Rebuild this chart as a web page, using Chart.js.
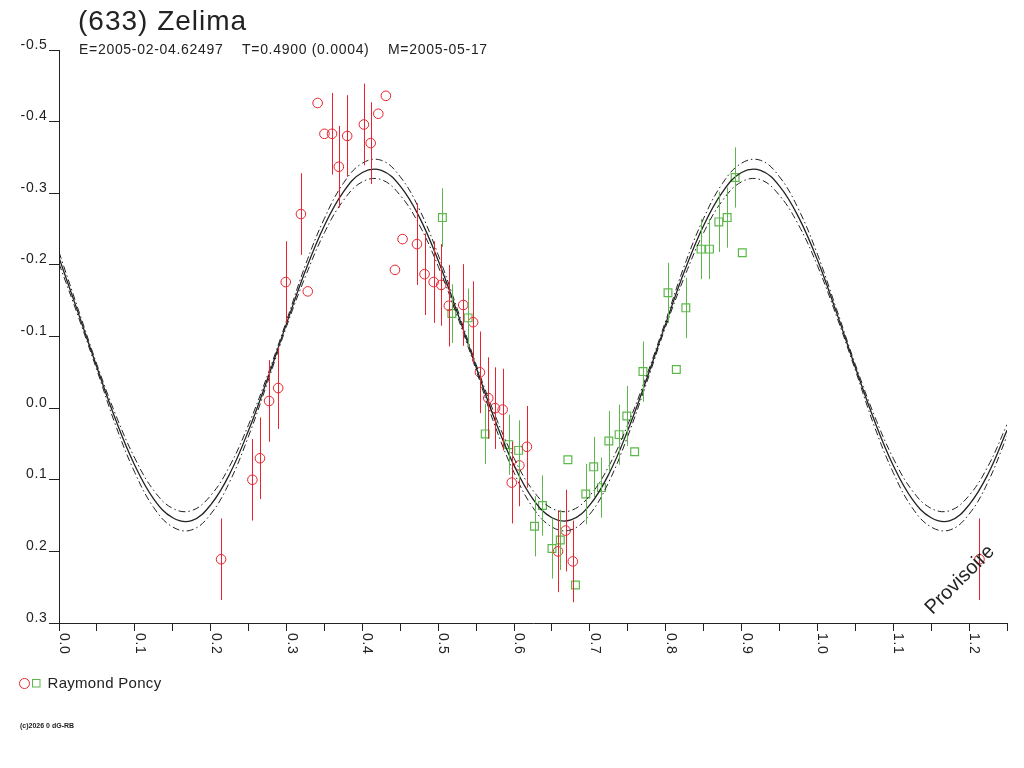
<!DOCTYPE html>
<html lang="fr">
<head>
<meta charset="UTF-8">
<title>(633) Zelima</title>
<script src="https://cdn.jsdelivr.net/npm/chart.js"></script>
<style>
    html, body { margin: 0; padding: 0; background: #fff; }
    #wrap { width: 1024px; height: 768px; }
</style>
</head>
<body>
<div id="wrap"><canvas id="lc" width="1024" height="768"></canvas></div>
<script>
// phase grid of the fitted curve and the three curves
const fitPhase = [0, 0.025, 0.05, 0.075, 0.1, 0.125, 0.15, 0.175, 0.2, 0.225,
    0.25, 0.275, 0.3, 0.325, 0.35, 0.375, 0.4, 0.425, 0.45, 0.475,
    0.5, 0.525, 0.55, 0.575, 0.6, 0.625, 0.65, 0.675, 0.7, 0.725,
    0.75, 0.775, 0.8, 0.825, 0.85, 0.875, 0.9, 0.925, 0.95, 0.975,
    1.0, 1.025, 1.05, 1.075, 1.1, 1.125, 1.15, 1.175, 1.2, 1.225, 1.25];
const fitMid = [-0.210, -0.134, -0.057, 0.017, 0.080, 0.127, 0.153, 0.157, 0.135, 0.092,
    0.031, -0.041, -0.118, -0.192, -0.255, -0.302, -0.329, -0.332, -0.310, -0.267,
    -0.206, -0.134, -0.057, 0.017, 0.080, 0.127, 0.153, 0.156, 0.135, 0.092,
    0.031, -0.041, -0.118, -0.192, -0.255, -0.302, -0.329, -0.332, -0.310, -0.267,
    -0.207, -0.134, -0.057, 0.017, 0.080, 0.127, 0.153, 0.157, 0.135, 0.092, 0.031];
const fitUpper = [-0.218, -0.139, -0.061, 0.010, 0.070, 0.115, 0.140, 0.143, 0.122, 0.081,
    0.023, -0.046, -0.122, -0.200, -0.265, -0.314, -0.342, -0.346, -0.323, -0.278,
    -0.214, -0.139, -0.061, 0.010, 0.070, 0.115, 0.140, 0.143, 0.122, 0.081,
    0.023, -0.046, -0.122, -0.200, -0.265, -0.314, -0.342, -0.346, -0.323, -0.278,
    -0.215, -0.139, -0.061, 0.010, 0.070, 0.115, 0.140, 0.143, 0.122, 0.081, 0.023];
const fitLower = [-0.202, -0.129, -0.053, 0.025, 0.090, 0.139, 0.166, 0.170, 0.148, 0.103,
    0.039, -0.036, -0.114, -0.184, -0.245, -0.290, -0.316, -0.319, -0.297, -0.256,
    -0.198, -0.129, -0.053, 0.025, 0.090, 0.139, 0.166, 0.170, 0.148, 0.103,
    0.039, -0.036, -0.114, -0.184, -0.245, -0.290, -0.316, -0.319, -0.297, -0.256,
    -0.199, -0.129, -0.053, 0.025, 0.090, 0.139, 0.166, 0.170, 0.148, 0.103, 0.039];

// first session (red circles)
const redPhase = [0.2137, 0.255, 0.265, 0.277, 0.289, 0.299, 0.319, 0.328, 0.341, 0.350,
    0.360, 0.369, 0.380, 0.402, 0.411, 0.421, 0.431, 0.443, 0.453, 0.472,
    0.482, 0.494, 0.504, 0.514, 0.533, 0.546, 0.555, 0.566, 0.575, 0.585,
    0.597, 0.607, 0.617, 0.658, 0.668, 0.6775, 1.2137];
const redMag = [0.211, 0.100, 0.070, -0.010, -0.028, -0.176, -0.271, -0.163, -0.426, -0.383,
    -0.383, -0.337, -0.380, -0.396, -0.370, -0.411, -0.436, -0.193, -0.236, -0.229,
    -0.187, -0.176, -0.172, -0.143, -0.144, -0.120, -0.050, -0.014, 0.000, 0.002,
    0.104, 0.080, 0.054, 0.200, 0.171, 0.214, 0.211];
const redErr = [0.057, 0.057, 0.057, 0.057, 0.057, 0.057, 0.057, 0, 0, 0,
    0.057, 0.057, 0.057, 0.057, 0.057, 0, 0, 0, 0, 0.057,
    0.057, 0.057, 0.057, 0.057, 0.057, 0.057, 0.057, 0.057, 0.057, 0.057,
    0.057, 0.057, 0.057, 0.057, 0.057, 0.057, 0.057];

// second session (green squares)
const greenPhase = [0.5055, 0.518, 0.5395, 0.562, 0.593, 0.606, 0.627, 0.6375, 0.650, 0.661,
    0.671, 0.681, 0.6946, 0.705, 0.7153, 0.725, 0.7385, 0.7487, 0.759, 0.770,
    0.803, 0.814, 0.8265, 0.8466, 0.8577, 0.870, 0.881, 0.8915, 0.901];
const greenMag = [-0.266, -0.132, -0.126, 0.036, 0.051, 0.059, 0.165, 0.136, 0.196, 0.184,
    0.072, 0.247, 0.120, 0.082, 0.111, 0.046, 0.037, 0.011, 0.061, -0.051,
    -0.161, -0.054, -0.140, -0.222, -0.222, -0.260, -0.266, -0.322, -0.217];
const greenErr = [0.041, 0.041, 0.041, 0.042, 0.042, 0.042, 0.042, 0.042, 0.042, 0.042,
    0, 0, 0.042, 0.042, 0.042, 0.042, 0.042, 0.042, 0, 0.042,
    0.042, 0, 0.042, 0.042, 0.042, 0.042, 0.042, 0.042, 0];

const xTickLabels = ['0.0', '0.1', '0.2', '0.3', '0.4', '0.5', '0.6', '0.7', '0.8', '0.9', '1.0', '1.1', '1.2'];
const yTickLabels = ['-0.5', '-0.4', '-0.3', '-0.2', '-0.1', '0.0', '0.1', '0.2', '0.3'];

const RED = '#e8232d';
const GREEN = '#5cb84a';
const INK = '#222';
const FONT = "'Liberation Sans', Arial, sans-serif";

function pairs(xs, ys) {
    return xs.map((x, i) => ({ x: x, y: ys[i] }));
}

const errorBars = {
    id: 'errorBars',
    afterDatasetsDraw(chart) {
        const ctx = chart.ctx;
        const xs = chart.scales.x, ys = chart.scales.y;
        const area = chart.chartArea;
        ctx.save();
        ctx.beginPath();
        ctx.rect(area.left, area.top, area.right - area.left, area.bottom - area.top);
        ctx.clip();
        ctx.lineWidth = 1;
        [[redPhase, redMag, redErr, RED], [greenPhase, greenMag, greenErr, GREEN]].forEach(set => {
            ctx.strokeStyle = set[3];
            set[0].forEach((p, i) => {
                const e = set[2][i];
                if (!e) return;
                const px = Math.round(xs.getPixelForValue(p)) + 0.5;
                ctx.beginPath();
                ctx.moveTo(px, ys.getPixelForValue(set[1][i] - e));
                ctx.lineTo(px, ys.getPixelForValue(set[1][i] + e));
                ctx.stroke();
            });
        });
        ctx.restore();
    }
};

const decorations = {
    id: 'decorations',
    afterDraw(chart) {
        const ctx = chart.ctx;
        const xs = chart.scales.x, ys = chart.scales.y;
        ctx.save();
        ctx.fillStyle = INK;
        ctx.textAlign = 'left';
        ctx.textBaseline = 'alphabetic';

        // title and elements
        ctx.font = '28px ' + FONT;
        ctx.letterSpacing = '1px';
        ctx.fillText('(633) Zelima', 78, 30);
        ctx.font = '14px ' + FONT;
        ctx.letterSpacing = '0.7px';
        ctx.fillText('E=2005-02-04.62497', 79, 53.5);
        ctx.fillText('T=0.4900 (0.0004)', 242, 53.5);
        ctx.fillText('M=2005-05-17', 388, 53.5);

        // y tick labels
        ctx.textAlign = 'right';
        yTickLabels.forEach(t => {
            ctx.fillText(t, 47.5, ys.getPixelForValue(parseFloat(t)) - 1.5);
        });

        // x tick labels, turned a quarter clockwise
        ctx.textAlign = 'left';
        xTickLabels.forEach(t => {
            const px = xs.getPixelForValue(parseFloat(t));
            ctx.save();
            ctx.translate(px + 1, 633);
            ctx.rotate(Math.PI / 2);
            ctx.fillText(t, 0, 0);
            ctx.restore();
        });

        // legend
        ctx.lineWidth = 1;
        ctx.strokeStyle = RED;
        ctx.beginPath();
        ctx.arc(24.5, 683.5, 5, 0, Math.PI * 2);
        ctx.stroke();
        ctx.strokeStyle = GREEN;
        ctx.strokeRect(32.5, 679.5, 7.5, 7.5);
        ctx.font = '15px ' + FONT;
        ctx.letterSpacing = '0.3px';
        ctx.fillText('Raymond Poncy', 47.5, 688);

        ctx.font = 'bold 7px ' + FONT;
        ctx.letterSpacing = '0px';
        ctx.fillText('(c)2026 0 dG-RB', 20, 728);

        // provisional stamp
        ctx.font = '20px ' + FONT;
        ctx.textAlign = 'center';
        ctx.textBaseline = 'middle';
        ctx.translate(960, 580);
        ctx.rotate(-Math.PI / 4);
        ctx.fillText('Provisoire', 0, 0);
        ctx.restore();
    }
};

new Chart(document.getElementById('lc'), {
    type: 'scatter',
    data: {
        datasets: [
            {
                label: 'fit+', type: 'line', data: pairs(fitPhase, fitUpper),
                borderColor: INK, borderWidth: 1, borderDash: [7, 3, 1.5, 3],
                pointRadius: 0, fill: false, tension: 0.4
            },
            {
                label: 'fit', type: 'line', data: pairs(fitPhase, fitMid),
                borderColor: INK, borderWidth: 1.3,
                pointRadius: 0, fill: false, tension: 0.4
            },
            {
                label: 'fit-', type: 'line', data: pairs(fitPhase, fitLower),
                borderColor: INK, borderWidth: 1, borderDash: [7, 3, 1.5, 3],
                pointRadius: 0, fill: false, tension: 0.4
            },
            {
                label: 'Raymond Poncy 1', data: pairs(redPhase, redMag),
                pointStyle: 'circle', pointRadius: 4.8, borderWidth: 1,
                borderColor: RED, backgroundColor: 'rgba(0,0,0,0)'
            },
            {
                label: 'Raymond Poncy 2', data: pairs(greenPhase, greenMag),
                pointStyle: 'rect', pointRadius: 5.5, borderWidth: 1.2,
                borderColor: GREEN, backgroundColor: 'rgba(0,0,0,0)'
            }
        ]
    },
    options: {
        responsive: false,
        animation: false,
        devicePixelRatio: 1,
        layout: { padding: { left: 0, top: 50, right: 17, bottom: 0 } },
        plugins: {
            legend: { display: false },
            tooltip: { enabled: false },
            title: { display: false }
        },
        scales: {
            x: {
                type: 'linear', min: 0, max: 1.25,
                border: { display: true, color: INK, width: 1 },
                grid: { drawOnChartArea: false, drawTicks: true, tickLength: 8, color: INK },
                ticks: { stepSize: 0.05, autoSkip: false, maxTicksLimit: 100, maxRotation: 0, padding: 0, callback: () => '' },
                afterFit: s => { s.height = 145; }
            },
            y: {
                type: 'linear', reverse: true, min: -0.5, max: 0.3,
                border: { display: true, color: INK, width: 1 },
                grid: { drawOnChartArea: false, drawTicks: true, tickLength: 10, color: INK },
                ticks: { stepSize: 0.1, maxTicksLimit: 100, padding: 0, callback: () => '' },
                afterFit: s => { s.width = 59; }
            }
        }
    },
    plugins: [errorBars, decorations]
});
</script>
</body>
</html>
